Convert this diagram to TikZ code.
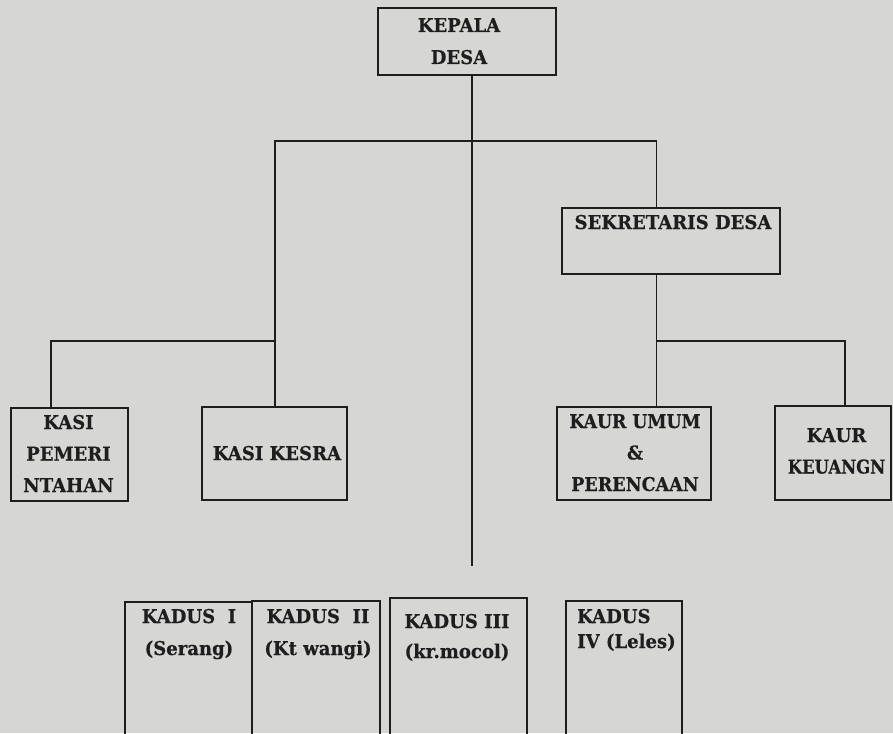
\documentclass[tikz,border=0pt]{standalone}
\usepackage{fontspec}
\usepackage{graphicx}
\setmainfont{DejaVu Serif}[BoldFeatures={FakeStretch=0.95,FakeBold=0.4}]
\definecolor{bg}{RGB}{214,214,212}
\definecolor{ink}{RGB}{30,30,30}
\newcommand\clines[1]{\vtop{\halign{\hfil##\hfil\cr#1\crcr}}}
\newcommand\llines[1]{\vtop{\halign{##\hfil\cr#1\crcr}}}
\begin{document}
\begin{tikzpicture}[x=1pt,y=-1pt,
  boxnode/.style={draw=ink, line width=1.3pt, inner sep=0pt, outer sep=0pt, anchor=north west},
  wire/.style={draw=ink, line width=1.3pt},
  txt/.style={anchor=base, inner sep=0pt, text=ink, font=\bfseries\fontsize{19}{31.5}\selectfont},
  ltxt/.style={txt, anchor=base west}]
\useasboundingbox (0,0) rectangle (893,733);
\fill[bg] (0,0) rectangle (893,733);
\clip (0,0) rectangle (893,733);

% boxes
\node[boxnode, minimum width=178pt, minimum height=67pt] (kepala) at (378,8) {};
\node[boxnode, minimum width=218pt, minimum height=66pt] (sek) at (562,208) {};
\node[boxnode, minimum width=117pt, minimum height=93pt] (kasip) at (11,408) {};
\node[boxnode, minimum width=145pt, minimum height=93pt] (kesra) at (202,407) {};
\node[boxnode, minimum width=154pt, minimum height=93pt] (umum) at (557,407) {};
\node[boxnode, minimum width=116pt, minimum height=94pt] (keu) at (775,406) {};
\node[boxnode, minimum width=127pt, minimum height=150pt] (k1) at (125,602) {};
\node[boxnode, minimum width=128pt, minimum height=150pt] (k2) at (252,601) {};
\node[boxnode, minimum width=137pt, minimum height=150pt] (k3) at (390,598) {};
\node[boxnode, minimum width=116pt, minimum height=150pt] (k4) at (566,601) {};

% texts
\node[txt, font=\bfseries\fontsize{19}{32}\selectfont] (tkepala) at (459,32) {\clines{KEPALA\cr DESA}};
\node[txt] (tsek) at (673,229) {SEKRETARIS DESA};
\node[txt] (tkasip) at (68.5,429) {\clines{KASI\cr PEMERI\cr NTAHAN}};
\node[txt] (tkesra) at (277,460) {KASI KESRA};
\node[txt] (tumum) at (635,428) {\clines{\scalebox{0.955}[1]{KAUR UMUM}\cr \&\cr \scalebox{0.97}[1]{PERENCAAN}}};
\node[txt] (tkeu) at (836.5,442) {\clines{KAUR\cr \scalebox{0.91}[1]{KEUANGN}}};
\node[txt, font=\bfseries\fontsize{19}{32}\selectfont] (tk1) at (189,623) {\clines{KADUS\ \ I\cr (Serang)}};
\node[txt, font=\bfseries\fontsize{19}{32}\selectfont] (tk2) at (318,623) {\clines{KADUS\ \ II\cr (Kt wangi)}};
\node[txt, font=\bfseries\fontsize{19}{30}\selectfont] (tk3) at (457,628) {\clines{KADUS III\cr (kr.mocol)}};
\node[ltxt, font=\bfseries\fontsize{19}{25}\selectfont] (tk4) at (577,623) {\llines{KADUS\cr IV (Leles)}};

% connector points
\coordinate (trunkend) at (472,566);
\coordinate (busL) at (275,141);
\coordinate (busR) at (656.5,141);
\coordinate (brL) at (51,341);
\coordinate (brR) at (845,341);

% connectors
\draw[wire] (kepala.south -| trunkend) -- (trunkend);
\draw[wire] (kesra.north -| busL) -- (busL) -- (busR) -- (sek.north -| busR);
\draw[wire] (sek.south -| busR) -- (umum.north -| busR);
\draw[wire] (busR |- brR) -- (brR) -- (keu.north -| brR);
\draw[wire] (busL |- brL) -- (brL) -- (kasip.north -| brL);
\end{tikzpicture}
\end{document}
